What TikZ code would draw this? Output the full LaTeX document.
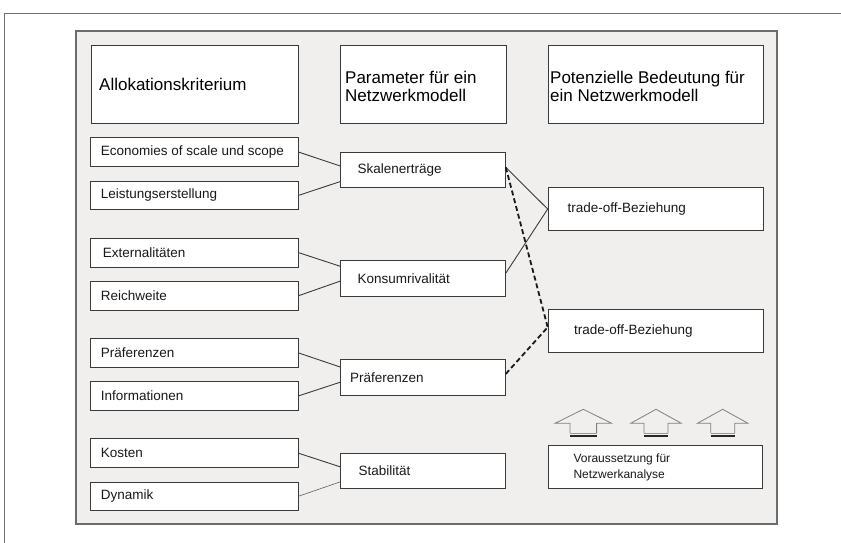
\documentclass[tikz,border=0pt]{standalone}
\usepackage{fontspec}
\setmainfont{Liberation Sans}
\usetikzlibrary{calc}
\definecolor{panelgray}{HTML}{F0EFED}
\definecolor{framegray}{HTML}{707070}
\definecolor{boxline}{HTML}{3A3A3A}
\begin{document}
\begin{tikzpicture}[x=1pt,y=-1pt,
  box/.style={draw=boxline, fill=white, line width=0.8pt, inner sep=0pt, anchor=north west},
  txt/.style={anchor=west, inner sep=0pt, text=black!90, font=\fontsize{13.5}{16}\selectfont},
  htxt/.style={anchor=west, inner sep=0pt, align=left, text=black, font=\fontsize{17}{18.5}\selectfont},
  stxt/.style={anchor=west, inner sep=0pt, align=left, text=black!90, font=\fontsize{12}{15.5}\selectfont},
  conn/.style={draw=boxline, line width=0.9pt},
  dconn/.style={draw=black!90, line width=1.8pt, dash pattern=on 5pt off 3pt},
  arr/.style={draw=gray, line width=0.8pt}
]
\useasboundingbox (0,0) rectangle (841,543);
% outer frame
\draw[framegray, line width=0.9pt] (4,545) -- (4,13) -- (845,13);
% panel
\draw[fill=panelgray, draw=gray!85!black, line width=1.2pt] (76,31) rectangle (777,524);

% header boxes
\node[box, minimum width=207pt, minimum height=78pt] (hA) at (90.7,45) {};
\node[box, minimum width=165.5pt, minimum height=78pt] (hP) at (340,45) {};
\node[box, minimum width=215pt, minimum height=78pt] (hB) at (548,45) {};
\node[htxt] (hAt) at (99,84) {Allokationskriterium};
\node[htxt] (hPt) at (345,86.5) {Parameter für ein\\Netzwerkmodell};
\node[htxt] (hBt) at (550,86.5) {Potenzielle Bedeutung für\\ein Netzwerkmodell};

% left column
\node[box, minimum width=207.7pt, minimum height=28.7pt] (e1) at (90,137.3) {};
\node[box, minimum width=207.7pt, minimum height=28.6pt] (e2) at (90,180.7) {};
\node[box, minimum width=207.7pt, minimum height=29pt] (e3) at (90,237.7) {};
\node[box, minimum width=207.7pt, minimum height=29.3pt] (e4) at (90,280.7) {};
\node[box, minimum width=207.7pt, minimum height=28.4pt] (e5) at (90,338.3) {};
\node[box, minimum width=207.7pt, minimum height=29pt] (e6) at (90,381) {};
\node[box, minimum width=207.7pt, minimum height=29pt] (e7) at (90,438.3) {};
\node[box, minimum width=207.7pt, minimum height=28.3pt] (e8) at (90,481.7) {};
\node[txt] (e1t) at ($(e1.west)+(10.7,0)$) {Economies of scale und scope};
\node[txt] (e2t) at ($(e2.west)+(10.7,0)$) {Leistungserstellung};
\node[txt] (e3t) at ($(e3.west)+(12.7,0)$) {Externalitäten};
\node[txt] (e4t) at ($(e4.west)+(10.7,0)$) {Reichweite};
\node[txt] (e5t) at ($(e5.west)+(10.7,0)$) {Präferenzen};
\node[txt] (e6t) at ($(e6.west)+(10.7,0)$) {Informationen};
\node[txt] (e7t) at ($(e7.west)+(10.7,0)$) {Kosten};
\node[txt] (e8t) at ($(e8.west)+(10.7,0)$) {Dynamik};

% middle column
\node[box, minimum width=165pt, minimum height=35pt] (m1) at (340,152.3) {};
\node[box, minimum width=165pt, minimum height=35.7pt] (m2) at (340,260) {};
\node[box, minimum width=165pt, minimum height=35.7pt] (m3) at (340,359.3) {};
\node[box, minimum width=165pt, minimum height=35.3pt] (m4) at (340,452.7) {};
\node[txt] (m1t) at ($(m1.west)+(17.3,0)$) {Skalenerträge};
\node[txt] (m2t) at ($(m2.west)+(17.3,0)$) {Konsumrivalität};
\node[txt] (m3t) at ($(m3.west)+(10,0)$) {Präferenzen};
\node[txt] (m4t) at ($(m4.west)+(18.3,0)$) {Stabilität};

% right column
\node[box, minimum width=215pt, minimum height=42.7pt] (r1) at (547.7,187.3) {};
\node[box, minimum width=215pt, minimum height=43pt] (r2) at (547.7,309.3) {};
\node[box, minimum width=213.4pt, minimum height=43.3pt] (r3) at (548.3,445) {};
\node[txt] (r1t) at ($(r1.west)+(19.6,0)$) {trade-off-Beziehung};
\node[txt] (r2t) at ($(r2.west)+(26.3,0)$) {trade-off-Beziehung};
\node[stxt] (r3t) at ($(r3.west)+(25,0.5)$) {Voraussetzung für\\Netzwerkanalyse};

% connector anchor points
\coordinate (m1a) at ($(m1.north west)!0.38!(m1.south west)$);
\coordinate (m1b) at ($(m1.north west)!0.82!(m1.south west)$);
\coordinate (m2a) at ($(m2.north west)!0.17!(m2.south west)$);
\coordinate (m2b) at ($(m2.north west)!0.58!(m2.south west)$);
\coordinate (m3a) at ($(m3.north west)!0.21!(m3.south west)$);
\coordinate (m3b) at ($(m3.north west)!0.63!(m3.south west)$);
\coordinate (m4a) at ($(m4.north west)!0.39!(m4.south west)$);
\coordinate (m4b) at ($(m4.north west)!0.81!(m4.south west)$);
\coordinate (m1r) at ($(m1.north east)!0.42!(m1.south east)$);
\coordinate (m2r) at ($(m2.north east)!0.36!(m2.south east)$);
\coordinate (m3r) at ($(m3.north east)!0.40!(m3.south east)$);
\coordinate (r2a) at ($(r2.north west)!0.41!(r2.south west)$);

% connectors
\draw[conn] (e1.east) -- (m1a);
\draw[conn] (e2.east) -- (m1b);
\draw[conn] (e3.east) -- (m2a);
\draw[conn] (e4.east) -- (m2b);
\draw[conn] (e5.east) -- (m3a);
\draw[conn] (e6.east) -- (m3b);
\draw[conn] (e7.east) -- (m4a);
\draw[conn, draw=gray!75!black, line width=0.6pt] (e8.east) -- (m4b);
\draw[conn] (m1r) -- (r1.west);
\draw[conn] (m2r) -- (r1.west);
\draw[dconn] (m1r) -- (r2a);
\draw[dconn] (m3r) -- (r2a);

% block arrows
\foreach \cx/\hh/\hs in {583.3/28.3/13.3, 656/25.3/12, 722.7/25.3/12}{
  \draw[arr] (\cx-\hs,433) -- (\cx-\hs,423.3) -- (\cx-\hh,423.3) -- (\cx,409.3)
     -- (\cx+\hh,423.3) -- (\cx+\hs,423.3) -- (\cx+\hs,433);
  \draw[gray!80, line width=0.8pt] (\cx-\hs,433.3) -- (\cx+\hs,433.3);
  \draw[black!85, line width=1.8pt] (\cx-\hs,436) -- (\cx+\hs,436);
}
\end{tikzpicture}
\end{document}
